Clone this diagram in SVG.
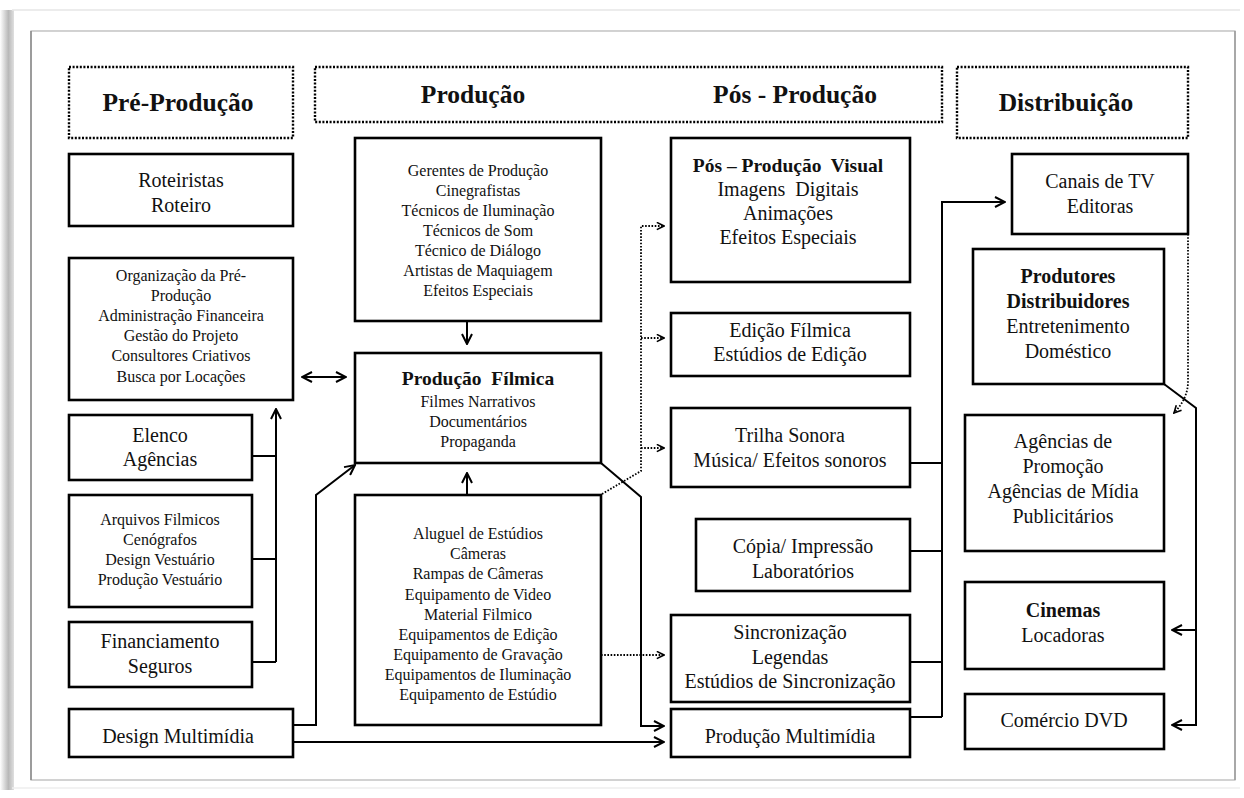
<svg xmlns="http://www.w3.org/2000/svg" width="1244" height="798" viewBox="0 0 1244 798" font-family="'Liberation Serif', Tinos, 'Times New Roman', 'DejaVu Serif', 'Noto Serif', serif">
<defs>
<linearGradient id="shL" x1="0" y1="0" x2="1" y2="0">
<stop offset="0" stop-color="#ffffff"/>
<stop offset="0.6" stop-color="#b8b8b8"/>
<stop offset="1" stop-color="#e0e0e0"/>
</linearGradient>
<marker id="arr" viewBox="0 0 12 12" refX="11" refY="6" markerWidth="12" markerHeight="12" markerUnits="userSpaceOnUse" orient="auto-start-reverse">
<path d="M1,1 L11,6 L1,11" fill="none" stroke="#000" stroke-width="2"/>
</marker>
<marker id="arrd" viewBox="0 0 10 10" refX="9" refY="5" markerWidth="9" markerHeight="9" markerUnits="userSpaceOnUse" orient="auto">
<path d="M1,1 L9,5 L1,9" fill="none" stroke="#000" stroke-width="1.8"/>
</marker>
</defs>
<style>
text{font-family:'Liberation Serif',Tinos,'Times New Roman','DejaVu Serif','Noto Serif',serif;fill:#111;text-anchor:middle}
.box{fill:#fff;stroke:#000;stroke-width:2.6}
.hdr{fill:#fff;stroke:#000;stroke-width:2.4;stroke-dasharray:2,1.6}
.h{font-size:25.5px;font-weight:bold}
.t20{font-size:20px}
.t16{font-size:16px}
.b19{font-size:19.5px;font-weight:bold}
.b20{font-size:20px;font-weight:bold}
.ln{fill:none;stroke:#000;stroke-width:2}
.dt{fill:none;stroke:#000;stroke-width:1.8;stroke-dasharray:1.6,1.6}
</style>
<rect x="0" y="0" width="1244" height="798" fill="#fff"/>
<rect x="0" y="10" width="14" height="780" fill="url(#shL)"/>
<line x1="12" y1="10" x2="1240" y2="10" stroke="#e6e6e6" stroke-width="1.5"/>
<line x1="12" y1="788" x2="1240" y2="788" stroke="#eeeeee" stroke-width="1.5"/>
<rect x="31" y="31" width="1204" height="749" fill="#fff" stroke="#b4b4b4" stroke-width="1.2"/>
<line x1="31" y1="31" x2="31" y2="780" stroke="#8a8a8a" stroke-width="1.5"/>
<line x1="1235" y1="31" x2="1235" y2="780" stroke="#9a9a9a" stroke-width="1.5"/>

<g id="connectors">
<path class="ln" d="M252,456 H276 M252,559 H276 M252,662 H276"/>
<path class="ln" d="M276,662 V409" marker-end="url(#arr)"/>
<path class="ln" d="M302,377 H346" marker-start="url(#arr)" marker-end="url(#arr)"/>
<path class="ln" d="M467,321 V344" marker-end="url(#arr)"/>
<path class="ln" d="M467,495 V473" marker-end="url(#arr)"/>
<path class="ln" d="M293,725 H316 V495 L355,465" marker-end="url(#arr)"/>
<path class="ln" d="M293,742 H664" marker-end="url(#arr)"/>
<path class="ln" d="M601,463 L641,497 V726 H664" marker-end="url(#arr)"/>
<path class="dt" d="M602,494 L641,471 V226 H664" marker-end="url(#arrd)"/>
<path class="dt" d="M641,338 H664" marker-end="url(#arrd)"/>
<path class="dt" d="M641,448 H664" marker-end="url(#arrd)"/>
<path class="dt" d="M601,655 H664" marker-end="url(#arrd)"/>
<path class="ln" d="M910,463 H942 M910,551 H942 M910,662 H942 M910,717 H942"/>
<path class="ln" d="M942,717 V202 H1005" marker-end="url(#arr)"/>
<path class="dt" d="M1188,234 V382 Q1188,398 1174,413" marker-end="url(#arrd)"/>
<path class="ln" d="M1164,384 L1196,408 V725 H1172" marker-end="url(#arr)"/>
<path class="ln" d="M1196,630 H1172" marker-end="url(#arr)"/>
</g>

<g id="hdr-pre"><rect class="hdr" x="69" y="67" width="224" height="71"/><text class="h" x="178" y="111">Pré-Produção</text></g>
<g id="hdr-prod"><rect class="hdr" x="315" y="67" width="627" height="55"/><text class="h" x="473" y="103">Produção</text><text class="h" x="795" y="103">Pós - Produção</text></g>
<g id="hdr-dist"><rect class="hdr" x="957" y="67" width="231" height="71"/><text class="h" x="1066" y="111">Distribuição</text></g>

<g id="roteiristas"><rect class="box" x="69" y="154" width="224" height="72"/><text class="t20" x="181" y="187">Roteiristas</text><text class="t20" x="181" y="212">Roteiro</text></g>
<g id="organizacao"><rect class="box" x="69" y="258" width="224" height="142"/>
<text class="t16" x="181" y="281">Organização da Pré-</text><text class="t16" x="181" y="301">Produção</text><text class="t16" x="181" y="321">Administração Financeira</text><text class="t16" x="181" y="341">Gestão do Projeto</text><text class="t16" x="181" y="361">Consultores Criativos</text><text class="t16" x="181" y="382">Busca por Locações</text></g>
<g id="elenco"><rect class="box" x="69" y="415" width="183" height="65"/><text class="t20" x="160" y="442">Elenco</text><text class="t20" x="160" y="466">Agências</text></g>
<g id="arquivos"><rect class="box" x="69" y="495" width="183" height="112"/>
<text class="t16" x="160" y="525">Arquivos Filmicos</text><text class="t16" x="160" y="545">Cenógrafos</text><text class="t16" x="160" y="565">Design Vestuário</text><text class="t16" x="160" y="585">Produção Vestuário</text></g>
<g id="financiamento"><rect class="box" x="69" y="622" width="183" height="65"/><text class="t20" x="160" y="648">Financiamento</text><text class="t20" x="160" y="673">Seguros</text></g>
<g id="design"><rect class="box" x="69" y="709" width="224" height="48"/><text class="t20" x="178" y="743">Design Multimídia</text></g>

<g id="gerentes"><rect class="box" x="355" y="138" width="246" height="183"/>
<text class="t16" x="478" y="176">Gerentes de Produção</text><text class="t16" x="478" y="196">Cinegrafistas</text><text class="t16" x="478" y="216">Técnicos de Iluminação</text><text class="t16" x="478" y="236">Técnicos de Som</text><text class="t16" x="478" y="256">Técnico de Diálogo</text><text class="t16" x="478" y="276">Artistas de Maquiagem</text><text class="t16" x="478" y="296">Efeitos Especiais</text></g>
<g id="producao-filmica"><rect class="box" x="355" y="353" width="246" height="110"/>
<text class="b19" x="478" y="385">Produção&#160; Fílmica</text><text class="t16" x="478" y="407">Filmes Narrativos</text><text class="t16" x="478" y="427">Documentários</text><text class="t16" x="478" y="447">Propaganda</text></g>
<g id="equipamentos"><rect class="box" x="355" y="495" width="246" height="230"/>
<text class="t16" x="478" y="539">Aluguel de Estúdios</text><text class="t16" x="478" y="559">Câmeras</text><text class="t16" x="478" y="579">Rampas de Câmeras</text><text class="t16" x="478" y="600">Equipamento de Video</text><text class="t16" x="478" y="620">Material Filmico</text><text class="t16" x="478" y="640">Equipamentos de Edição</text><text class="t16" x="478" y="660">Equipamento de Gravação</text><text class="t16" x="478" y="680">Equipamentos de Iluminação</text><text class="t16" x="478" y="700">Equipamento de Estúdio</text></g>

<g id="pos-visual"><rect class="box" x="671" y="138" width="239" height="144"/>
<text class="b19" x="788" y="172">Pós – Produção&#160; Visual</text><text class="t20" x="788" y="196">Imagens&#160; Digitais</text><text class="t20" x="788" y="220">Animações</text><text class="t20" x="788" y="244">Efeitos Especiais</text></g>
<g id="edicao"><rect class="box" x="671" y="313" width="239" height="63"/><text class="t20" x="790" y="337">Edição Fílmica</text><text class="t20" x="790" y="361">Estúdios de Edição</text></g>
<g id="trilha"><rect class="box" x="671" y="408" width="239" height="79"/><text class="t20" x="790" y="442">Trilha Sonora</text><text class="t20" x="790" y="467">Música/ Efeitos sonoros</text></g>
<g id="copia"><rect class="box" x="696" y="519" width="214" height="72"/><text class="t20" x="803" y="553">Cópia/ Impressão</text><text class="t20" x="803" y="578">Laboratórios</text></g>
<g id="sincronizacao"><rect class="box" x="671" y="615" width="239" height="87"/><text class="t20" x="790" y="639">Sincronização</text><text class="t20" x="790" y="664">Legendas</text><text class="t20" x="790" y="688">Estúdios de Sincronização</text></g>
<g id="producao-multimidia"><rect class="box" x="671" y="709" width="239" height="48"/><text class="t20" x="790" y="743">Produção Multimídia</text></g>

<g id="canais"><rect class="box" x="1012" y="154" width="176" height="80"/><text class="t20" x="1100" y="188">Canais de TV</text><text class="t20" x="1100" y="213">Editoras</text></g>
<g id="produtores"><rect class="box" x="973" y="249" width="191" height="135"/>
<text class="b20" x="1068" y="283">Produtores</text><text class="b20" x="1068" y="308">Distribuidores</text><text class="t20" x="1068" y="333">Entretenimento</text><text class="t20" x="1068" y="358">Doméstico</text></g>
<g id="agencias"><rect class="box" x="965" y="415" width="199" height="136"/>
<text class="t20" x="1063" y="448">Agências de</text><text class="t20" x="1063" y="473">Promoção</text><text class="t20" x="1063" y="498">Agências de Mídia</text><text class="t20" x="1063" y="523">Publicitários</text></g>
<g id="cinemas"><rect class="box" x="965" y="582" width="199" height="87"/><text class="b20" x="1063" y="617">Cinemas</text><text class="t20" x="1063" y="642">Locadoras</text></g>
<g id="comercio"><rect class="box" x="965" y="694" width="199" height="55"/><text class="t20" x="1064" y="727">Comércio DVD</text></g>
</svg>
